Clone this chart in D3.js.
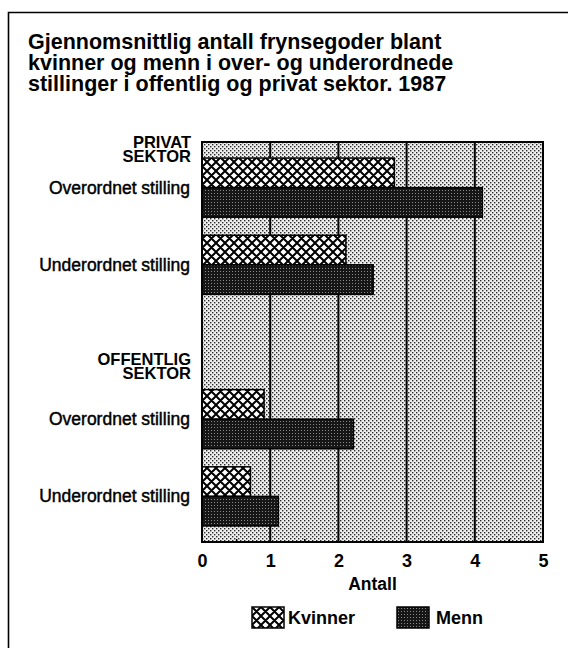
<!DOCTYPE html>
<html>
<head>
<meta charset="utf-8">
<script src="https://cdn.jsdelivr.net/npm/d3@7"></script>
<style>
  html, body { margin: 0; padding: 0; background: #fff; }
  svg { display: block; }
  text { font-family: "Liberation Sans", Arial, Helvetica, sans-serif; fill: #000; }
</style>
</head>
<body>
<svg id="chart" width="568" height="648"></svg>
<script>
// Title lines
const titleLines = [
  "Gjennomsnittlig antall frynsegoder blant",
  "kvinner og menn i over- og underordnede",
  "stillinger i offentlig og privat sektor. 1987"
];

// Rows of the chart (an empty row separates the two sectors)
const rows = ["privat-over", "privat-under", "skille", "offentlig-over", "offentlig-under"];
const rowLabels = ["Overordnet stilling", "Underordnet stilling", "", "Overordnet stilling", "Underordnet stilling"];

// Sector headings and the row each one sits above
const sectorHeadings = [["PRIVAT", "SEKTOR"], ["OFFENTLIG", "SEKTOR"]];
const sectorRows = ["privat-over", "offentlig-over"];

// Series
const series = ["Kvinner", "Menn"];
const kvinner = [2.82, 2.11, null, 0.91, 0.71];
const menn    = [4.11, 2.51, null, 2.22, 1.12];

// Axis
const xTicks = [0, 1, 2, 3, 4, 5];
const xMinorTicks = [0.5, 1.5, 2.5, 3.5, 4.5];
const xTitle = "Antall";

const svg = d3.select("#chart");
const plot = { left: 202, right: 543, top: 142, bottom: 542 };

// ---- patterns ----
const defs = svg.append("defs");

// light stipple for the plot background
const pBg = defs.append("pattern").attr("id", "stipple")
  .attr("patternUnits", "userSpaceOnUse").attr("width", 4).attr("height", 4);
pBg.append("rect").attr("width", 4).attr("height", 4).attr("fill", "#eeeeee");
pBg.append("rect").attr("x", 0).attr("y", 0).attr("width", 1.4).attr("height", 1.4).attr("fill", "#2a2a2a");
pBg.append("rect").attr("x", 2).attr("y", 2).attr("width", 1.4).attr("height", 1.4).attr("fill", "#2a2a2a");

// cross-hatch for Kvinner
const pK = defs.append("pattern").attr("id", "hatch")
  .attr("patternUnits", "userSpaceOnUse").attr("width", 9).attr("height", 9);
pK.append("rect").attr("width", 9).attr("height", 9).attr("fill", "#fff");
pK.append("path").attr("d", "M0,0L9,9M9,0L0,9M-1,8L1,10M8,-1L10,1M-1,1L1,-1M8,10L10,8")
  .attr("stroke", "#000").attr("stroke-width", 2);

// dark screen for Menn
const pM = defs.append("pattern").attr("id", "dark")
  .attr("patternUnits", "userSpaceOnUse").attr("width", 3).attr("height", 3);
pM.append("rect").attr("width", 3).attr("height", 3).attr("fill", "#161616");
pM.append("rect").attr("x", 1).attr("y", 1).attr("width", 1).attr("height", 1).attr("fill", "#8a8a8a");

const fills = { Kvinner: "url(#hatch)", Menn: "url(#dark)" };

// ---- outer frame ----
svg.append("path")
  .attr("d", `M8.5,648 L8.5,12.5 L568,12.5`)
  .attr("fill", "none").attr("stroke", "#000").attr("stroke-width", 1.6);

// ---- title (one text block, one tspan per line) ----
svg.append("text")
  .attr("font-size", 21.5).attr("font-weight", "bold")
  .selectAll("tspan").data(titleLines).join("tspan")
  .attr("x", 28).attr("y", (d, i) => 48.5 + i * 21.1)
  .text(d => d);

// ---- scales ----
const x = d3.scaleLinear().domain([0, 5]).range([plot.left, plot.right]);
const y = d3.scaleBand().domain(rows).range([plot.top, plot.bottom])
  .paddingInner(0.234).paddingOuter(0.208);
const ySub = d3.scaleBand().domain(series).range([0, y.bandwidth()]);

// ---- plot background and grid ----
svg.append("rect")
  .attr("x", plot.left).attr("y", plot.top)
  .attr("width", plot.right - plot.left).attr("height", plot.bottom - plot.top)
  .attr("fill", "url(#stipple)");

svg.append("g").selectAll("line").data(xTicks.slice(1, -1)).join("line")
  .attr("x1", d => x(d)).attr("x2", d => x(d))
  .attr("y1", plot.top).attr("y2", plot.bottom)
  .attr("stroke", "#000").attr("stroke-width", 2);

// ---- bars ----
const barData = [];
rows.forEach((r, i) => {
  if (kvinner[i] != null) barData.push({ row: r, s: "Kvinner", v: kvinner[i] });
  if (menn[i] != null) barData.push({ row: r, s: "Menn", v: menn[i] });
});

svg.append("g").selectAll("rect").data(barData).join("rect")
  .attr("x", x(0))
  .attr("y", d => y(d.row) + ySub(d.s))
  .attr("width", d => x(d.v) - x(0))
  .attr("height", ySub.bandwidth())
  .attr("fill", d => fills[d.s])
  .attr("stroke", "#000").attr("stroke-width", 1.5);

// ---- plot frame ----
svg.append("rect")
  .attr("x", plot.left).attr("y", plot.top)
  .attr("width", plot.right - plot.left).attr("height", plot.bottom - plot.top)
  .attr("fill", "none").attr("stroke", "#000").attr("stroke-width", 2);

// ---- x axis ----
const axisG = svg.append("g").attr("transform", `translate(0,${plot.bottom})`)
  .call(d3.axisBottom(x).tickValues(xTicks).tickSize(0).tickPadding(12.5).tickFormat(d3.format("d")));
axisG.select(".domain").remove();
axisG.selectAll("text")
  .attr("font-family", "\"Liberation Sans\", Arial, sans-serif")
  .attr("font-size", 18).attr("font-weight", "bold").attr("fill", "#000");

const minorG = svg.append("g").attr("transform", `translate(0,${plot.bottom})`)
  .call(d3.axisBottom(x).tickValues(xMinorTicks).tickSize(-3).tickFormat(""));
minorG.select(".domain").remove();
minorG.selectAll("line").attr("stroke", "#000").attr("stroke-width", 1.5);

svg.append("text")
  .attr("x", (plot.left + plot.right) / 2).attr("y", 590)
  .attr("text-anchor", "middle").attr("font-size", 17.5).attr("font-weight", "bold")
  .text(xTitle);

// ---- row labels ----
svg.append("g").selectAll("text").data(rows.map((r, i) => ({ r, t: rowLabels[i] })).filter(d => d.t))
  .join("text")
  .attr("x", 190)
  .attr("y", d => y(d.r) + y.bandwidth() / 2 + 6)
  .attr("text-anchor", "end")
  .attr("font-size", 17.5)
  .attr("stroke", "#000").attr("stroke-width", 0.45)
  .text(d => d.t);

// ---- sector headings (one text block per heading) ----
const headOffsets = [[-10.5, 3.5], [-24.5, -10.5]];
sectorHeadings.forEach((lines, k) => {
  svg.append("text")
    .attr("text-anchor", "end")
    .attr("font-size", 16.5).attr("font-weight", "bold")
    .selectAll("tspan").data(lines).join("tspan")
    .attr("x", 191)
    .attr("y", (d, i) => y(sectorRows[k]) + headOffsets[k][i])
    .text(d => d);
});

// ---- legend ----
const legendX = [252, 397];
const legend = svg.append("g").selectAll("g").data(series).join("g")
  .attr("transform", (d, i) => `translate(${legendX[i]},607)`);
legend.append("rect")
  .attr("width", 32).attr("height", 21)
  .attr("fill", d => fills[d]).attr("stroke", "#000").attr("stroke-width", 1.5);
legend.append("text")
  .attr("x", (d, i) => i === 0 ? 36 : 39).attr("y", 16.5)
  .attr("font-size", 18).attr("font-weight", "bold")
  .text(d => d);
</script>
</body>
</html>
